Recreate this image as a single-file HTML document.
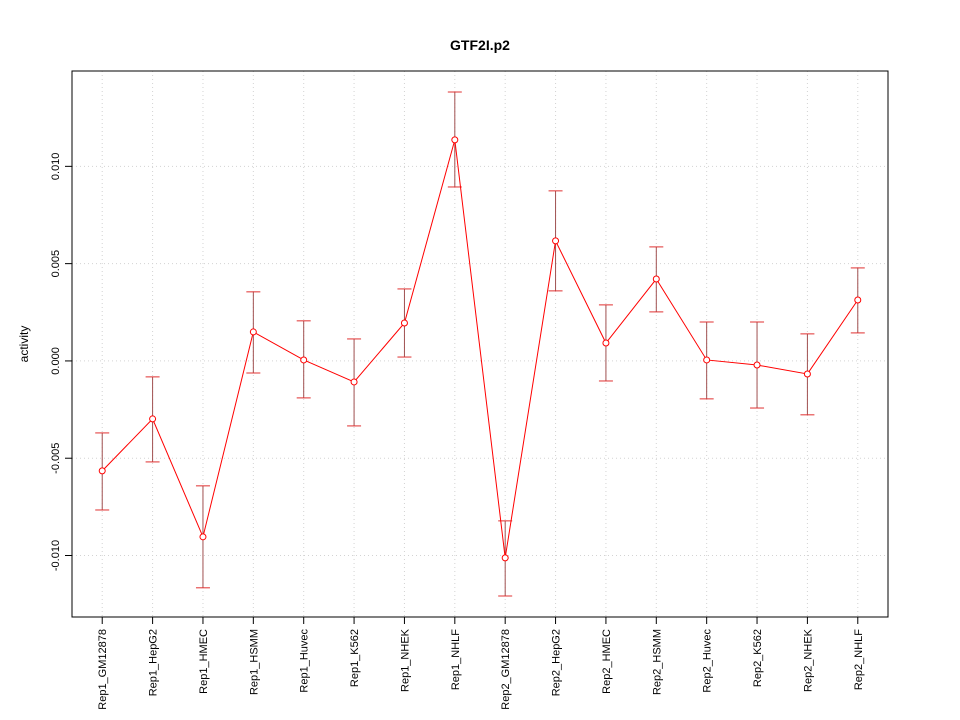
<!DOCTYPE html>
<html><head><meta charset="utf-8"><style>
body{margin:0;background:#fff;}
svg{display:block;font-family:"Liberation Sans",Arial,sans-serif;}
</style></head><body>
<svg id="chart" width="960" height="720" viewBox="0 0 960 720" xmlns="http://www.w3.org/2000/svg">
<text x="480" y="50" text-anchor="middle" font-size="14" font-weight="bold">GTF2I.p2</text>
<text transform="translate(28,344) rotate(-90)" text-anchor="middle" font-size="12">activity</text>
<g id="grid"></g>
<g id="axes"></g>
<g id="marks"></g>
<rect x="72" y="71" width="816" height="546" fill="none" stroke="#000"/>
</svg>
<script>
const categories=["Rep1_GM12878","Rep1_HepG2","Rep1_HMEC","Rep1_HSMM","Rep1_Huvec","Rep1_K562","Rep1_NHEK","Rep1_NHLF","Rep2_GM12878","Rep2_HepG2","Rep2_HMEC","Rep2_HSMM","Rep2_Huvec","Rep2_K562","Rep2_NHEK","Rep2_NHLF"];
const values=[-0.00565,-0.00298,-0.00904,0.00149,0.00005,-0.00108,0.00195,0.01136,-0.01012,0.00617,0.00092,0.00421,0.00005,-0.00021,-0.00067,0.00313];
const upper=[-0.0037,-0.00082,-0.00642,0.00355,0.00206,0.00113,0.0037,0.01382,-0.00822,0.00874,0.00288,0.00586,0.002,0.002,0.00139,0.00478];
const lower=[-0.00766,-0.00519,-0.01166,-0.00062,-0.0019,-0.00334,0.0002,0.00894,-0.01208,0.0036,-0.00103,0.00252,-0.00195,-0.00242,-0.00277,0.00144];
const yTicks=[-0.010,-0.005,0.000,0.005,0.010];
const yTickLabels=["-0.010","-0.005","0.000","0.005","0.010"];
const L=72,R=888,T=71,B=617;
const xDomain=[0.4,categories.length+0.6];
const yDomain=[-0.01316,0.0149];
function xs(i){return L+(i+1-xDomain[0])/(xDomain[1]-xDomain[0])*(R-L);}
function ys(v){return B-(v-yDomain[0])/(yDomain[1]-yDomain[0])*(B-T);}
const NS="http://www.w3.org/2000/svg";
function mk(tag,attrs,parent){const e=document.createElementNS(NS,tag);for(const k in attrs)e.setAttribute(k,attrs[k]);parent.appendChild(e);return e;}
const grid=document.getElementById('grid'),axes=document.getElementById('axes'),marks=document.getElementById('marks');
categories.forEach((c,i)=>{
 const x=xs(i);
 const g=mk('line',{x1:x,x2:x,y1:T,y2:B,stroke:'#d3d3d3','stroke-dasharray':'1,3'},grid);
 
 
 const t=mk('line',{x1:x,x2:x,y1:B,y2:B+7,stroke:'#000'},axes);
 
 
 const lb=mk('text',{transform:`translate(${x+4},${B+12}) rotate(-90)`,'text-anchor':'end','font-size':'11'},axes);
 lb.textContent=c;
 
 
});
yTicks.forEach((v,i)=>{
 const y=ys(v);
 const g=mk('line',{x1:L,x2:R,y1:y,y2:y,stroke:'#d3d3d3','stroke-dasharray':'1,3'},grid);
 
 
 const t=mk('line',{x1:L-7,x2:L,y1:y,y2:y,stroke:'#000'},axes);
 
 
 const lb=mk('text',{transform:`translate(${L-13},${y}) rotate(-90)`,'text-anchor':'middle','font-size':'11'},axes);
 lb.textContent=yTickLabels[i];
 
 
});
categories.forEach((c,i)=>{
 const x=xs(i);
 const s=mk('line',{x1:x,x2:x,y1:ys(upper[i]),y2:ys(lower[i]),stroke:'#a05050'},marks);
 
 
 [upper[i],lower[i]].forEach(v=>{
  const cp=mk('line',{x1:x-7,x2:x+7,y1:ys(v),y2:ys(v),stroke:'#e03030'},marks);
  
  
 });
});
const pl=mk('polyline',{points:values.map((v,i)=>xs(i)+','+ys(v)).join(' '),fill:'none',stroke:'#ff0000'},marks);


values.forEach((v,i)=>{
 const p=mk('circle',{cx:xs(i),cy:ys(v),r:3,fill:'#fff',stroke:'#ff0000'},marks);
 
 
});
</script>
</body></html>
